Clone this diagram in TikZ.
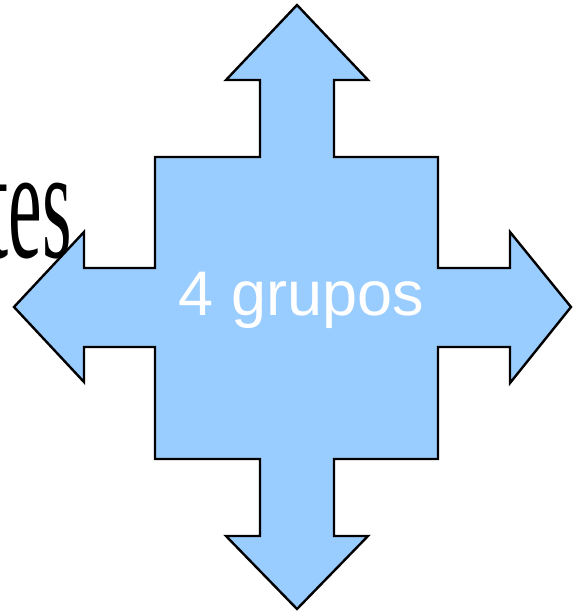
\documentclass[tikz,border=0pt]{standalone}
\usepackage{fontspec}
\setmainfont{Liberation Serif}
\newfontfamily\arialfont{Liberation Sans}
\definecolor{arrowblue}{HTML}{99CCFF}
\begin{document}
\begin{tikzpicture}[x=1pt,y=-1pt,
  shapestyle/.style={fill=arrowblue,draw=black,line width=2.4pt,line join=miter},
  bgtext/.style={inner sep=0pt,font=\fontsize{158}{160}\selectfont,xscale=0.48,text=black},
  labeltext/.style={inner sep=0pt,font=\arialfont\fontsize{63}{66}\selectfont,text=white}]
\useasboundingbox (0,0) rectangle (573,612);
\begin{scope}
\clip (0,0) rectangle (573,612);
\node[bgtext,anchor=base east] (word) at (72,257) {tes};
\draw[shapestyle] (297,5) -- (368,80) -- (334,80) -- (334,157) -- (438,157) -- (438,268)
  -- (510,268) -- (510,232) -- (571,307) -- (510,383) -- (510,347) -- (438,347)
  -- (438,459) -- (334,459) -- (334,536) -- (368,536) -- (297,609) -- (226,536)
  -- (260,536) -- (260,459) -- (155,459) -- (155,347) -- (84,347) -- (84,382)
  -- (14,307) -- (84,232) -- (84,268) -- (155,268) -- (155,157) -- (260,157)
  -- (260,80) -- (226,80) -- cycle;
\node[labeltext,anchor=base] (label) at (301.5,315) {4 grupos};
\end{scope}
\end{tikzpicture}
\end{document}
